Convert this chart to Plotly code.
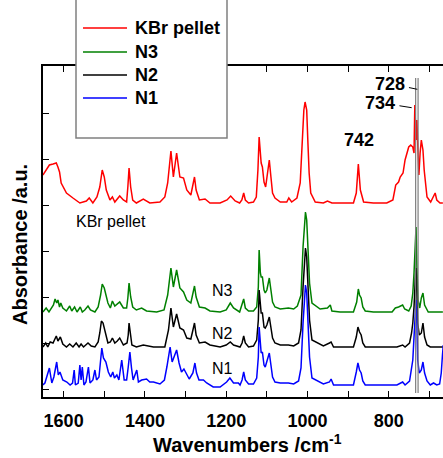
import plotly.graph_objects as go

# ---------------- spectra (wavenumber / cm-1, absorbance above own baseline, a.u.) ----------------
kbr_wn = [1651, 1643, 1635, 1626, 1618, 1614, 1610, 1606, 1593, 1577, 1560, 1544, 1537, 1528, 1518, 1511,
          1505, 1500, 1495, 1486, 1480, 1474, 1462, 1453, 1445, 1442, 1439, 1435, 1430, 1421, 1404, 1388,
          1363, 1351, 1344, 1336, 1330, 1322, 1314, 1305, 1297, 1287, 1283, 1278, 1274, 1266, 1252, 1240,
          1215, 1198, 1189, 1178, 1167, 1161.5, 1157, 1153, 1145, 1133, 1126, 1122, 1119, 1116, 1114, 1111,
          1107, 1103, 1100, 1094, 1090, 1086, 1080, 1067, 1051, 1046, 1039, 1026, 1018, 1013, 1009, 1006,
          1002, 999, 996, 992, 981, 961, 951, 940, 920, 887, 880, 875, 870, 862, 838, 805, 790, 783, 776,
          772, 765, 760, 751, 746, 741, 738, 736, 733, 731, 729, 726, 723, 720, 716, 713, 706, 697, 686,
          682, 674, 667]
kbr_ab = [0.28, 0.33, 0.38, 0.39, 0.40, 0.36, 0.31, 0.20, 0.10, 0.05, 0.00, 0.02, 0.05, 0.00, 0.06, 0.16,
          0.33, 0.26, 0.13, 0.03, 0.06, 0.01, 0.07, 0.03, 0.01, 0.16, 0.35, 0.16, 0.03, 0.00, 0.04, 0.00,
          0.01, 0.06, 0.20, 0.52, 0.26, 0.50, 0.26, 0.25, 0.13, 0.08, 0.16, 0.26, 0.13, 0.03, 0.04, 0.00,
          0.00, 0.03, 0.07, 0.02, 0.00, 0.03, 0.10, 0.03, 0.00, 0.01, 0.06, 0.33, 0.66, 0.43, 0.40, 0.36,
          0.21, 0.16, 0.26, 0.43, 0.26, 0.10, 0.05, 0.01, 0.01, 0.05, 0.01, 0.05, 0.20, 0.60, 0.93, 1.01,
          0.93, 0.60, 0.30, 0.10, 0.01, 0.00, 0.02, 0.00, 0.00, 0.00, 0.10, 0.39, 0.13, 0.01, 0.00, 0.00,
          0.03, 0.18, 0.21, 0.26, 0.30, 0.43, 0.56, 0.58, 0.56, 0.50, 0.98, 0.63, 0.83, 0.56, 0.28, 0.50,
          0.63, 0.53, 0.33, 0.06, 0.01, 0.10, 0.03, 0.00, 0.00]

n3_wn = [1651, 1643, 1636, 1630, 1625, 1621, 1617, 1614, 1610, 1607, 1602, 1593, 1585, 1580, 1573, 1567,
         1559, 1554, 1548, 1540, 1534, 1523, 1515, 1509, 1505, 1500, 1496, 1491, 1485, 1480, 1474, 1468,
         1462, 1453, 1445, 1442, 1439, 1435, 1430, 1421, 1408, 1396, 1371, 1353, 1344, 1336, 1330, 1322,
         1314, 1305, 1297, 1287, 1283, 1278, 1274, 1266, 1252, 1240, 1215, 1200, 1190, 1182, 1167, 1157,
         1153, 1145, 1133, 1125, 1121, 1119, 1116, 1114, 1111, 1107, 1104, 1100, 1094, 1090, 1086, 1080,
         1067, 1047, 1034, 1025, 1016, 1011, 1007, 1005, 1002, 998, 995, 989, 969, 951, 944, 940, 920,
         887, 879, 875, 872, 868, 864, 858, 838, 792, 784, 776, 766, 761, 751, 745, 741, 738, 736, 733,
         731, 728, 724, 720, 716, 712, 703, 674, 667]
n3_ab = [0.00, 0.04, 0.00, 0.04, 0.07, 0.13, 0.09, 0.12, 0.05, 0.09, 0.04, 0.01, 0.06, 0.01, 0.05, 0.00,
         0.05, 0.00, 0.02, 0.06, 0.02, 0.00, 0.05, 0.17, 0.28, 0.24, 0.17, 0.09, 0.04, 0.11, 0.06, 0.08,
         0.10, 0.04, 0.04, 0.14, 0.29, 0.15, 0.05, 0.02, 0.04, 0.01, 0.00, 0.02, 0.17, 0.44, 0.25, 0.42,
         0.24, 0.20, 0.12, 0.09, 0.17, 0.26, 0.15, 0.05, 0.04, 0.01, 0.00, 0.02, 0.09, 0.04, 0.00, 0.13,
         0.04, 0.01, 0.01, 0.05, 0.25, 0.62, 0.39, 0.35, 0.35, 0.22, 0.19, 0.22, 0.34, 0.22, 0.10, 0.05,
         0.03, 0.04, 0.03, 0.06, 0.17, 0.65, 0.95, 1.00, 0.92, 0.59, 0.29, 0.09, 0.03, 0.04, 0.07, 0.01, 0.00,
         0.00, 0.10, 0.23, 0.17, 0.14, 0.05, 0.01, 0.00, 0.00, 0.04, 0.05, 0.07, 0.03, 0.01, 0.06, 0.19, 0.39,
         0.55, 0.85, 0.45, 0.12, 0.04, 0.14, 0.19, 0.07, 0.00, 0.00, 0.00]

n2_wn = [1651, 1644, 1639, 1633, 1626, 1621, 1618, 1614, 1608, 1602, 1593, 1585, 1577, 1569, 1562, 1557,
         1551, 1540, 1532, 1523, 1515, 1511, 1507, 1503, 1497, 1491, 1485, 1480, 1474, 1468, 1462, 1453,
         1444, 1441, 1439, 1435, 1432, 1421, 1404, 1379, 1351, 1342, 1336, 1330, 1322, 1314, 1305, 1297,
         1287, 1283, 1278, 1274, 1266, 1252, 1240, 1215, 1200, 1190, 1182, 1166, 1161, 1157, 1153, 1145,
         1133, 1125, 1121, 1119, 1116, 1114, 1111, 1107, 1104, 1100, 1094, 1090, 1086, 1080, 1067, 1047,
         1034, 1022, 1016, 1011, 1007, 1005, 1002, 998, 995, 989, 961, 946, 942, 936, 887, 880, 876, 872,
         868, 864, 858, 838, 780, 766, 760, 749, 744, 741, 738, 735, 733, 731, 729, 725, 720, 716, 712, 706,
         698, 674, 667]
n2_ab = [0.00, 0.04, 0.00, 0.05, 0.04, 0.09, 0.11, 0.06, 0.10, 0.03, 0.00, 0.03, 0.00, 0.04, 0.00, 0.03,
         0.00, 0.04, 0.01, 0.00, 0.05, 0.14, 0.26, 0.24, 0.14, 0.04, 0.05, 0.09, 0.04, 0.06, 0.09, 0.02,
         0.04, 0.12, 0.24, 0.12, 0.02, 0.00, 0.02, 0.00, 0.00, 0.17, 0.39, 0.20, 0.33, 0.19, 0.17, 0.09,
         0.08, 0.15, 0.24, 0.12, 0.04, 0.05, 0.02, 0.00, 0.02, 0.05, 0.02, 0.00, 0.04, 0.11, 0.04, 0.00,
         0.01, 0.07, 0.27, 0.57, 0.37, 0.34, 0.34, 0.20, 0.19, 0.22, 0.30, 0.20, 0.09, 0.04, 0.02, 0.02,
         0.01, 0.04, 0.17, 0.60, 0.94, 0.99, 0.90, 0.60, 0.27, 0.07, 0.01, 0.04, 0.05, 0.00, 0.00, 0.10, 0.20,
         0.15, 0.12, 0.04, 0.00, 0.00, 0.00, 0.02, 0.00, 0.04, 0.14, 0.24, 0.40, 0.67, 0.79, 0.54, 0.24,
         0.12, 0.14, 0.24, 0.10, 0.02, 0.00, 0.00, 0.00]

n1_wn = [1651, 1646, 1635, 1629, 1624, 1617, 1613, 1609, 1602, 1592, 1584, 1578, 1574, 1571, 1564, 1560,
         1557, 1554, 1550, 1545, 1539, 1535, 1528, 1523, 1519, 1513, 1506, 1502, 1496, 1490, 1484, 1479,
         1475, 1469, 1464, 1457, 1451, 1445, 1441, 1437, 1433, 1429, 1420, 1416, 1408, 1396, 1388, 1379,
         1363, 1352, 1346, 1338, 1333, 1328, 1322, 1316, 1310, 1304, 1297, 1291, 1282, 1277, 1273, 1267,
         1256, 1248, 1232, 1215, 1199, 1191, 1182, 1170, 1166, 1161, 1157, 1153, 1145, 1133, 1125, 1121,
         1119, 1116, 1114, 1111, 1107, 1104, 1100, 1094, 1090, 1086, 1080, 1067, 1047, 1034, 1022, 1016,
         1011, 1007, 1005, 1002, 998, 995, 989, 961, 946, 942, 936, 887, 880, 876, 872, 868, 864, 858,
         838, 780, 766, 760, 749, 744, 741, 738, 735, 733, 731, 729, 725, 720, 716, 712, 706, 698, 690,
         682, 675, 671, 668, 666]
n1_ab = [0.00, 0.02, 0.17, 0.02, 0.08, 0.23, 0.10, 0.13, 0.05, 0.03, 0.00, 0.02, 0.15, 0.00, 0.02, 0.20,
         0.05, 0.18, 0.00, 0.03, 0.18, 0.02, 0.05, 0.15, 0.05, 0.08, 0.37, 0.27, 0.23, 0.13, 0.08, 0.13,
         0.07, 0.10, 0.05, 0.25, 0.05, 0.05, 0.18, 0.33, 0.17, 0.05, 0.15, 0.03, 0.05, 0.06, 0.03, 0.03,
         0.01, 0.05, 0.18, 0.38, 0.23, 0.28, 0.35, 0.22, 0.13, 0.16, 0.10, 0.06, 0.12, 0.22, 0.12, 0.05,
         0.05, 0.02, -0.02, -0.02, 0.03, 0.07, 0.02, 0.02, 0.00, 0.05, 0.13, 0.05, 0.01, 0.01, 0.07, 0.28,
         0.58, 0.37, 0.32, 0.33, 0.20, 0.18, 0.23, 0.32, 0.20, 0.08, 0.03, 0.02, 0.02, 0.01, 0.04, 0.17,
         0.62, 0.95, 1.00, 0.92, 0.62, 0.28, 0.07, 0.01, 0.03, 0.06, 0.00, 0.00, 0.13, 0.22, 0.15, 0.12,
         0.04, 0.00, 0.00, 0.00, 0.03, 0.00, 0.04, 0.15, 0.25, 0.48, 0.77, 0.85, 0.62, 0.25, 0.12, 0.15,
         0.23, 0.12, 0.04, 0.00, 0.02, 0.00, 0.01, 0.12, 0.30, 0.40]

series_names = ["KBr pellet", "N3", "N2", "N1"]
series_colors = ["#ff0000", "#008000", "#000000", "#0000ff"]
series_offsets = [1.94, 0.85, 0.50, 0.12]   # vertical stacking offsets
series_data = [(kbr_wn, kbr_ab), (n3_wn, n3_ab), (n2_wn, n2_ab), (n1_wn, n1_ab)]

marked_bands = [734, 728]   # cm-1, vertical guide lines

FONT = "Liberation Sans, Arial, sans-serif"

fig = go.Figure()
for name, color, off, (wn, ab) in zip(series_names, series_colors, series_offsets, series_data):
    fig.add_trace(go.Scatter(x=wn, y=[v + off for v in ab], mode="lines", name=name,
                             line=dict(color=color, width=1.5), showlegend=False))

for band in marked_bands:
    fig.add_shape(type="line", xref="x", yref="y", x0=band, x1=band, y0=0.04, y1=3.19,
                  line=dict(color="#7f7f7f", width=1.2), layer="above")

# legend: framed box with a line sample and a label per series
fig.add_shape(type="rect", xref="paper", yref="paper", x0=0.0825, x1=0.46, y0=0.7825, y1=1.25,
              line=dict(color="#808080", width=1.5), fillcolor="white", layer="above")
legend_rows = [1.1148, 1.0423, 0.9728, 0.9033]
ann = []
for name, color, yy in zip(series_names, series_colors, legend_rows):
    fig.add_shape(type="line", xref="paper", yref="paper", x0=0.10, x1=0.21, y0=yy, y1=yy,
                  line=dict(color=color, width=1.5), layer="above")
    ann.append(dict(text=name, xref="paper", yref="paper", x=0.225, y=yy, xanchor="left",
                    yanchor="middle", showarrow=False,
                    font=dict(family=FONT, size=18, color="black", weight="bold")))

ann.append(dict(text="KBr pellet", x=1483, y=1.76, showarrow=False,
                font=dict(family=FONT, size=16, color="black")))
for lab, yy in [("N3", 1.07), ("N2", 0.64), ("N1", 0.29)]:
    ann.append(dict(text=lab, x=1209, y=yy, showarrow=False,
                    font=dict(family=FONT, size=16, color="black")))
ann.append(dict(text="742", x=873, y=2.57, showarrow=False,
                font=dict(family=FONT, size=18, color="black", weight="bold")))
ann.append(dict(text="728", x=729.9, y=3.077, ax=-27.8, ay=-5.8, showarrow=True, arrowhead=0,
                arrowwidth=1, arrowcolor="black", startstandoff=3,
                font=dict(family=FONT, size=18, color="black", weight="bold")))
ann.append(dict(text="734", x=743.7, y=2.893, ax=-31.7, ay=-5.0, showarrow=True, arrowhead=0,
                arrowwidth=1, arrowcolor="black", startstandoff=3,
                font=dict(family=FONT, size=18, color="black", weight="bold")))
ann.append(dict(text="Wavenumbers /cm<sup>-1</sup>", xref="paper", yref="paper", x=0.51, y=-0.1843,
                xanchor="center", yanchor="bottom", showarrow=False,
                font=dict(family=FONT, size=20, color="black", weight="bold")))
ann.append(dict(text="Absorbance /a.u.", xref="paper", yref="paper", x=-0.0588, y=0.4607,
                xanchor="center", yanchor="middle", textangle=-90, showarrow=False,
                font=dict(family=FONT, size=20, color="black", weight="bold")))

fig.update_layout(
    width=443, height=458,
    margin=dict(l=43, r=0, t=66, b=61),
    paper_bgcolor="white", plot_bgcolor="white",
    annotations=ann,
    showlegend=False,
    xaxis=dict(range=[1650.7, 666.7], tickmode="linear", tick0=0, dtick=200,
               ticks="inside", ticklen=6, tickwidth=1, tickcolor="black", ticklabelstandoff=7,
               minor=dict(dtick=100, ticks="inside", ticklen=6, tickwidth=1, tickcolor="black"),
               showline=True, linecolor="black", linewidth=1.5, mirror="ticks",
               showgrid=False, zeroline=False,
               tickfont=dict(family=FONT, size=18, color="black", weight="bold")),
    yaxis=dict(range=[0, 3.31], tickmode="linear", tick0=0.08, dtick=0.46,
               ticks="inside", ticklen=6, tickwidth=1, tickcolor="black",
               showticklabels=False, showline=True, linecolor="black", linewidth=1.5,
               showgrid=False, zeroline=False),
)

fig.write_html("out.html")
